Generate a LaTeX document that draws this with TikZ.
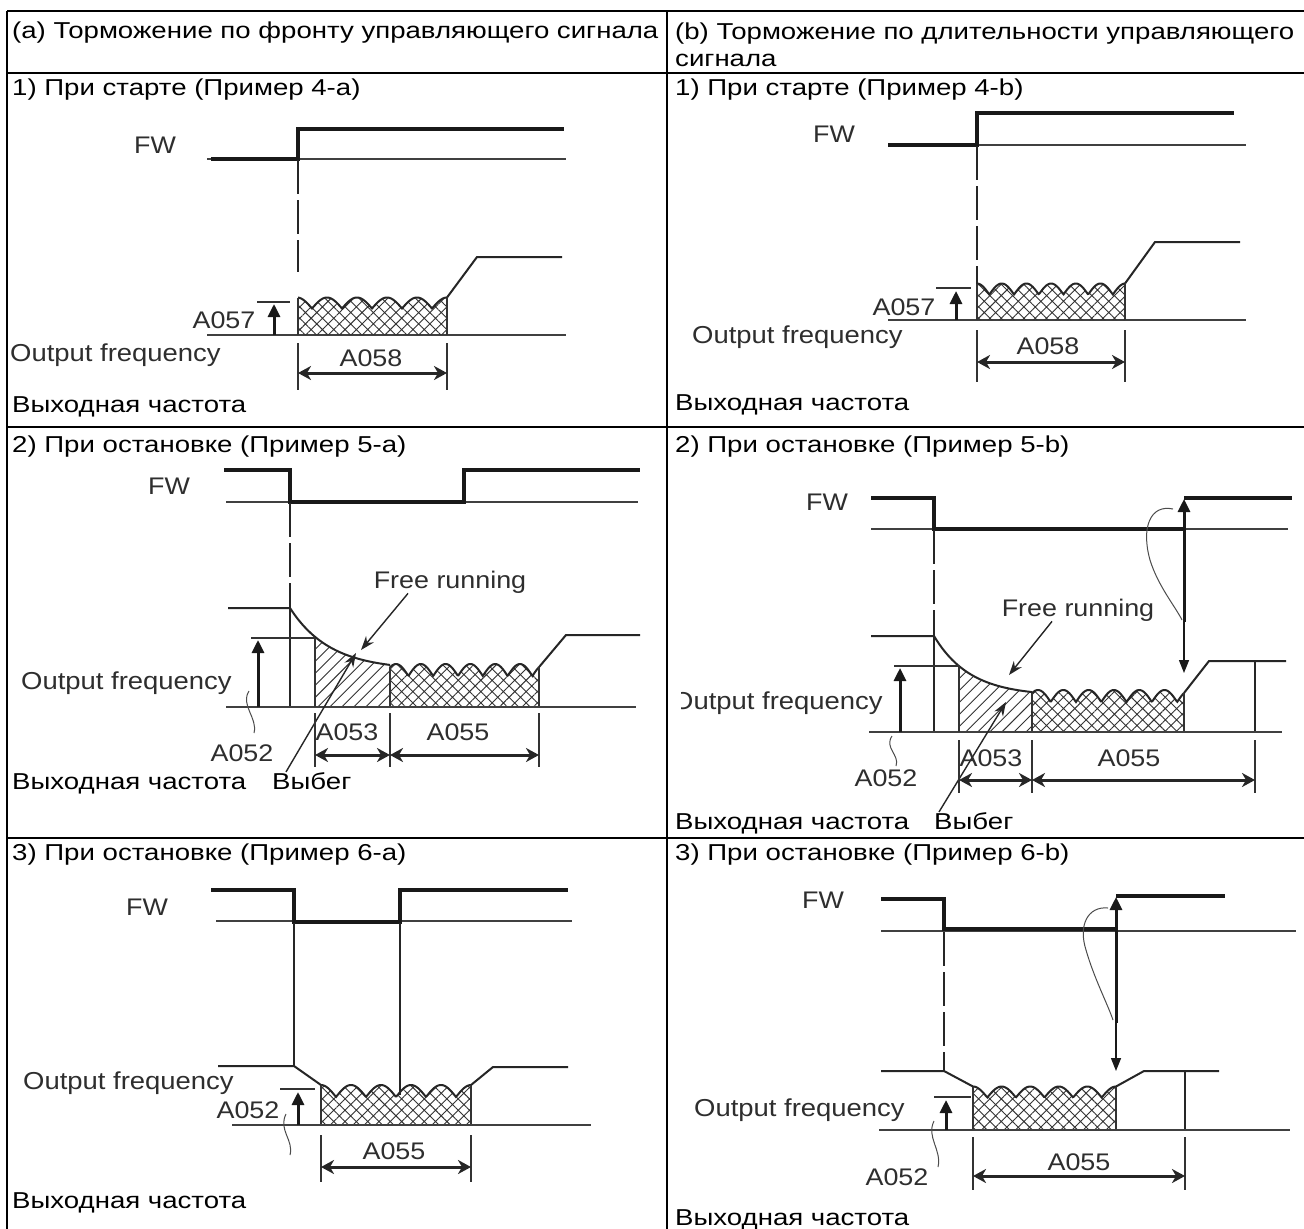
\documentclass[tikz,border=0pt]{standalone}
\usepackage{fontspec}
\setmainfont{Liberation Sans}[FakeStretch=1.2]
\newfontfamily\lblfont{Liberation Sans}[FakeStretch=1.12]
\usetikzlibrary{arrows.meta,patterns.meta}

% cross-hatched block with a scalloped upper edge:
% #1 name, #2 x0, #3 x1, #4 y of base, #5 mid y of wave, #6 amplitude, #7 period, #8 x of first crest
\newcommand\xwave[8]{%
  \fill[pattern={Hatch[angle=45,distance=8pt,line width=0.9pt]},pattern color=black!80]
    (#2,#4) -- plot[domain=#2:#3,samples=160] (\x,{#5+#6-2*#6*abs(cos((\x-#8)/#7*180))}) -- (#3,#4) -- cycle;
  \draw[outl] plot[domain=#2:#3,samples=160] (\x,{#5+#6-2*#6*abs(cos((\x-#8)/#7*180))});
  \coordinate (#1-b) at (#2,{#5+#6-2*#6*abs(cos((#2-#8)/#7*180))});
  \coordinate (#1-e) at (#3,{#5+#6-2*#6*abs(cos((#3-#8)/#7*180))});
  \draw[sideln] (#1-b) -- (#2,#4);
  \draw[sideln] (#1-e) -- (#3,#4);
}

\begin{document}
\begin{tikzpicture}[x=1pt,y=-1pt,
  tblline/.style={line width=2.4pt},
  bodytxt/.style={inner sep=0pt,anchor=base west,font=\fontsize{23}{27}\selectfont},
  lbl/.style={inner sep=0pt,text=black!82,font=\lblfont\fontsize{24}{28}\selectfont},
  ofq/.style={inner sep=0pt,anchor=west,text=black!82,font=\lblfont\fontsize{24.5}{29}\selectfont},
  sig/.style={line width=3.4pt,black!90},
  baseln/.style={line width=1.7pt,black!75},
  outl/.style={line width=2pt,black!85},
  sideln/.style={line width=1.1pt,black!80},
  guide/.style={line width=1.4pt,black!85,dash pattern=on 34pt off 6pt},
  vline/.style={line width=1.4pt,black!85},
  dimline/.style={line width=1.3pt,black!80},
  dimarr/.style={line width=3pt,black!85,{Stealth[length=13pt,width=14pt,inset=4pt]}-{Stealth[length=13pt,width=14pt,inset=4pt]}},
  uparr/.style={line width=3pt,black!90,-{Triangle[length=13pt,width=12pt]}},
  dnarr/.style={line width=1.4pt,black!90,-{Triangle[length=13pt,width=10pt]}},
  ptr/.style={line width=1.4pt,black!85,-{Stealth[length=14pt,width=10pt]}},
  lead/.style={line width=1pt,black!70},
]
\useasboundingbox (0,0) rectangle (1304,1229);
\fill[white] (0,0) rectangle (1304,1229);

% ---------------- table frame ----------------
\draw[tblline] (7,11) -- (1304,11);
\draw[tblline] (7,73) -- (1304,73);
\draw[tblline] (7,427) -- (1304,427);
\draw[tblline] (7,838) -- (1304,838);
\draw[tblline] (7,11) -- (7,1229);
\draw[tblline] (667,11) -- (667,1229);

% ---------------- headings ----------------
\node[bodytxt] (ha) at (12,38) {(a) Торможение по фронту управляющего сигнала};
\node[bodytxt] (hb1) at (675,39) {(b) Торможение по длительности управляющего};
\node[bodytxt] (hb2) at (675,66) {сигнала};
\node[bodytxt] (t1a) at (12,95) {1) При старте (Пример 4-а)};
\node[bodytxt] (t1b) at (675,95) {1) При старте (Пример 4-b)};
\node[bodytxt] (t2a) at (12,452) {2) При остановке (Пример 5-а)};
\node[bodytxt] (t2b) at (675,452) {2) При остановке (Пример 5-b)};
\node[bodytxt] (t3a) at (12,860) {3) При остановке (Пример 6-а)};
\node[bodytxt] (t3b) at (675,860) {3) При остановке (Пример 6-b)};
\node[bodytxt] (v1a) at (12,412) {Выходная частота};
\node[bodytxt] (v1b) at (675,410) {Выходная частота};
\node[bodytxt] (v2a) at (12,789) {Выходная частота};
\node[bodytxt] (w2a) at (272,789) {Выбег};
\node[bodytxt] (v2b) at (675,829) {Выходная частота};
\node[bodytxt] (w2b) at (934,829) {Выбег};
\node[bodytxt] (v3a) at (12,1208) {Выходная частота};
\node[bodytxt] (v3b) at (675,1225) {Выходная частота};

% ================= 1a: start, edge braking =================
\node[lbl] (fw1a) at (155,145) {FW};
\draw[baseln] (207,159) -- (566,159);
\draw[sig] (211,159) -- (298,159) -- (298,129) -- (564,129);
\draw[guide] (298,160) -- (298,272);
\draw[baseln] (207,335) -- (566,335);
\xwave{w1a}{298}{447}{335}{303}{5.5}{30}{297}
\draw[outl] (w1a-e) -- (477,257) -- (562,257);
\draw[dimline] (257,302) -- (290,302);
\draw[uparr] (274,335) -- (274,304);
\node[lbl] (a057a) at (224,320) {A057};
\node[ofq] (of1a) at (10,355) {Output frequency};
\draw[dimline] (298,343) -- (298,390);
\draw[dimline] (447,343) -- (447,390);
\draw[dimarr] (298,373) -- (447,373);
\node[lbl] (a058a) at (371,358) {A058};

% ================= 1b: start, level braking =================
\node[lbl] (fw1b) at (834,134) {FW};
\draw[baseln] (888,145) -- (1246,145);
\draw[sig] (888,145) -- (977,145) -- (977,113) -- (1234,113);
\draw[guide] (977,146) -- (977,288);
\draw[baseln] (888,320) -- (1246,320);
\xwave{w1b}{977}{1125}{320}{289}{5.5}{24.7}{977}
\draw[outl] (w1b-e) -- (1155,242) -- (1240,242);
\draw[dimline] (936,288) -- (971,288);
\draw[uparr] (956,320) -- (956,291);
\node[lbl] (a057b) at (904,307) {A057};
\node[ofq] (of1b) at (692,337) {Output frequency};
\draw[dimline] (977,330) -- (977,382);
\draw[dimline] (1125,330) -- (1125,382);
\draw[dimarr] (977,362) -- (1125,362);
\node[lbl] (a058b) at (1048,346) {A058};

% ================= 2a: stop, edge braking =================
\node[lbl] (fw2a) at (169,486) {FW};
\draw[baseln] (226,502) -- (638,502);
\draw[sig] (224,470) -- (290,470) -- (290,502) -- (464,502) -- (464,470) -- (640,470);
\draw[guide] (290,503) -- (290,608);
\draw[vline] (290,608) -- (290,707);
\fill[pattern={Lines[angle=45,distance=8.5pt,line width=0.9pt]},pattern color=black!80]
  (315,707) -- plot[domain=315:390,samples=60] (\x,{707-37-62*exp(-(\x-290)/40)}) -- (390,707) -- cycle;
\draw[outl] (228,608) -- (290,608) -- plot[domain=290:390,samples=80] (\x,{707-37-62*exp(-(\x-290)/40)});
\xwave{w2a}{390}{539}{707}{670}{6}{24.8}{396}
\draw[outl] (w2a-e) -- (566,635) -- (640,635);
\draw[baseln] (226,707) -- (636,707);
\draw[dimline] (251,638) -- (315,638);
\draw[sideln] (315,638) -- (315,707);
\draw[uparr] (258,707) -- (258,640);
\node[lbl] (fr2a) at (450,582) {Free running};
\draw[ptr] ([xshift=-42pt]fr2a.south) -- (361,650);
\draw[ptr] ([xshift=14pt]w2a.north west) -- (356,653);
\node[ofq] (of2a) at (21,683) {Output frequency};
\draw[lead] (249,691) .. controls (240,705) and (258,718) .. (254,733);
\node[lbl] (a052a) at (242,753) {A052};
\draw[dimline] (315,713) -- (315,767);
\draw[dimline] (390,713) -- (390,767);
\draw[dimline] (539,713) -- (539,767);
\draw[dimarr] (315,755) -- (390,755);
\draw[dimarr] (390,755) -- (539,755);
\node[lbl] (a053a) at (347,732) {A053};
\node[lbl] (a055a) at (458,732) {A055};

% ================= 2b: stop, level braking =================
\node[lbl] (fw2b) at (827,502) {FW};
\draw[baseln] (871,529) -- (1288,529);
\draw[sig] (871,498) -- (934,498) -- (934,529) -- (1184,529);
\draw[sig] (1184,498) -- (1292,498);
\draw[uparr] (1184,622) -- (1184,499);
\draw[dnarr] (1184,622) -- (1184,673);
\draw[lead] (1173,509) .. controls (1150,504) and (1141,528) .. (1150,560) .. controls (1158,586) and (1175,606) .. (1182,620);
\draw[guide] (934,530) -- (934,636);
\draw[vline] (934,636) -- (934,732);
\fill[pattern={Lines[angle=45,distance=8.5pt,line width=0.9pt]},pattern color=black!80]
  (959,732) -- plot[domain=959:1032,samples=60] (\x,{732-36-60*exp(-(\x-934)/36)}) -- (1032,732) -- cycle;
\draw[outl] (871,636) -- (934,636) -- plot[domain=934:1032,samples=80] (\x,{732-36-60*exp(-(\x-934)/36)});
\xwave{w2b}{1032}{1184}{732}{696}{6}{25.3}{1038}
\draw[outl] (w2b-e) -- (1209,661) -- (1286,661);
\draw[vline] (1255,661) -- (1255,732);
\draw[baseln] (869,732) -- (1282,732);
\draw[dimline] (894,666) -- (959,666);
\draw[sideln] (959,666) -- (959,732);
\draw[uparr] (900,732) -- (900,668);
\node[lbl] (fr2b) at (1078,610) {Free running};
\draw[ptr] ([xshift=-26pt]fr2b.south) -- (1009,675);
\draw[ptr] ([xshift=5pt]w2b.north west) -- (1006,702);
\begin{scope}
  \clip (681,680) rectangle (925,730);
  \node[ofq] (of2b) at (672,703) {Output frequency};
\end{scope}
\draw[lead] (892,736) .. controls (884,748) and (900,755) .. (896,766);
\node[lbl] (a052b) at (886,778) {A052};
\draw[dimline] (959,740) -- (959,793);
\draw[dimline] (1032,740) -- (1032,793);
\draw[dimline] (1255,740) -- (1255,793);
\draw[dimarr] (959,780) -- (1032,780);
\draw[dimarr] (1032,780) -- (1255,780);
\node[lbl] (a053b) at (991,758) {A053};
\node[lbl] (a055b) at (1129,758) {A055};

% ================= 3a: stop, edge braking, short pulse =================
\node[lbl] (fw3a) at (147,907) {FW};
\draw[baseln] (216,921) -- (572,921);
\draw[sig] (211,890) -- (294,890) -- (294,922) -- (400,922) -- (400,890) -- (568,890);
\draw[vline] (294,923) -- (294,1066);
\xwave{w3a}{321}{471}{1125}{1091}{6}{30}{321}
\draw[vline] (400,923) -- (400,1095);
\draw[outl] (218,1066) -- (294,1066) -- (w3a-b);
\draw[outl] (w3a-e) -- (493,1067) -- (568,1067);
\draw[baseln] (232,1125) -- (591,1125);
\draw[dimline] (280,1089) -- (315,1089);
\draw[uparr] (298,1125) -- (298,1092);
\node[ofq] (of3a) at (23,1083) {Output frequency};
\node[lbl] (a052c) at (248,1110) {A052};
\draw[lead] (286,1114) .. controls (278,1130) and (294,1140) .. (290,1155);
\draw[dimline] (321,1135) -- (321,1182);
\draw[dimline] (471,1135) -- (471,1182);
\draw[dimarr] (321,1167) -- (471,1167);
\node[lbl] (a055c) at (394,1151) {A055};

% ================= 3b: stop, level braking, short pulse =================
\node[lbl] (fw3b) at (823,900) {FW};
\draw[baseln] (881,931) -- (1296,931);
\draw[sig] (881,899) -- (944,899) -- (944,929) -- (1116,929);
\draw[sig] (1116,896) -- (1225,896);
\draw[uparr] (1116,1023) -- (1116,897);
\draw[dnarr] (1116,1023) -- (1116,1071);
\draw[lead] (1108,908) .. controls (1088,906) and (1078,925) .. (1086,950) .. controls (1094,978) and (1108,1005) .. (1113,1020);
\draw[guide] (944,932) -- (944,1071);
\xwave{w3b}{973}{1116}{1130}{1092}{5.5}{28.6}{973}
\draw[outl] (881,1071) -- (944,1071) -- (w3b-b);
\draw[outl] (w3b-e) -- (1144,1071) -- (1219,1071);
\draw[vline] (1185,1071) -- (1185,1130);
\draw[baseln] (879,1130) -- (1290,1130);
\draw[dimline] (934,1097) -- (971,1097);
\draw[uparr] (946,1130) -- (946,1100);
\node[ofq] (of3b) at (694,1110) {Output frequency};
\draw[lead] (934,1121) .. controls (926,1137) and (942,1150) .. (938,1167);
\node[lbl] (a052d) at (897,1177) {A052};
\draw[dimline] (973,1137) -- (973,1190);
\draw[dimline] (1185,1137) -- (1185,1190);
\draw[dimarr] (973,1176) -- (1185,1176);
\node[lbl] (a055d) at (1079,1162) {A055};

\end{tikzpicture}
\end{document}
